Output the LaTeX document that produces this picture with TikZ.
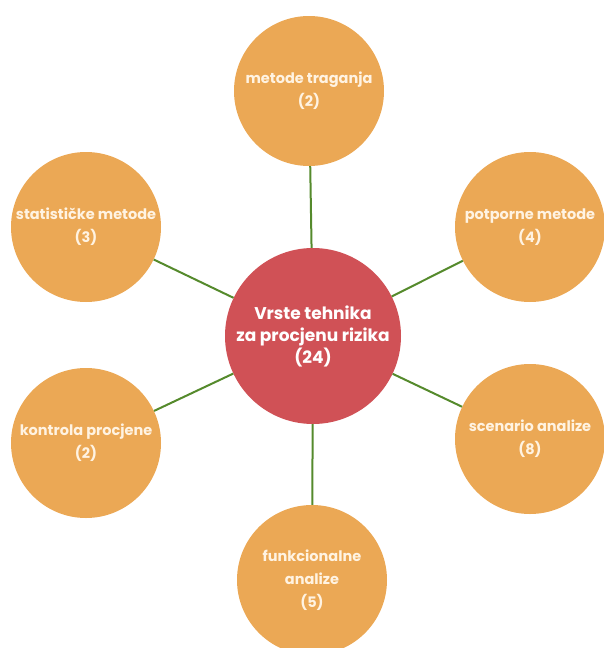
\documentclass[tikz,border=0pt]{standalone}
\usepackage{fontspec}
\setmainfont{Poppins}
\definecolor{orangefill}{HTML}{EBA855}
\definecolor{redfill}{HTML}{D05156}
\definecolor{linkgreen}{HTML}{558A2C}
\definecolor{txtcream}{HTML}{FFF3E2}
\begin{document}
\begin{tikzpicture}[x=1pt,y=-1pt,
  hub/.style={circle,fill=redfill,minimum size=176pt,inner sep=0pt,align=center,
    text=white,font=\fontsize{17}{22}\selectfont\bfseries},
  leaf/.style={circle,fill=orangefill,minimum size=150pt,inner sep=0pt,align=center,
    text=txtcream,font=\fontsize{14.5}{23}\selectfont\bfseries},
  link/.style={draw=linkgreen,line width=2pt}]
\useasboundingbox (0,0) rectangle (603,648);
\node[hub] (c) at (313,336) {Vrste tehnika\\za procjenu rizika\\(24)};
\node[leaf] (t) at (309,91) {metode traganja\\(2)};
\node[leaf] (ul) at (86,227) {statističke metode\\(3)};
\node[leaf] (ur) at (530,227) {potporne metode\\(4)};
\node[leaf] (ll) at (86,443) {kontrola procjene\\(2)};
\node[leaf] (lr) at (530,439) {scenario analize\\(8)};
\node[leaf] (b) at (312,580) {funkcionalne\\analize\\(5)};
\draw[link] (c) -- (t);
\draw[link] (c) -- (ul);
\draw[link] (c) -- (ur);
\draw[link] (c) -- (ll);
\draw[link] (c) -- (lr);
\draw[link] (c) -- (b);
\end{tikzpicture}
\end{document}
